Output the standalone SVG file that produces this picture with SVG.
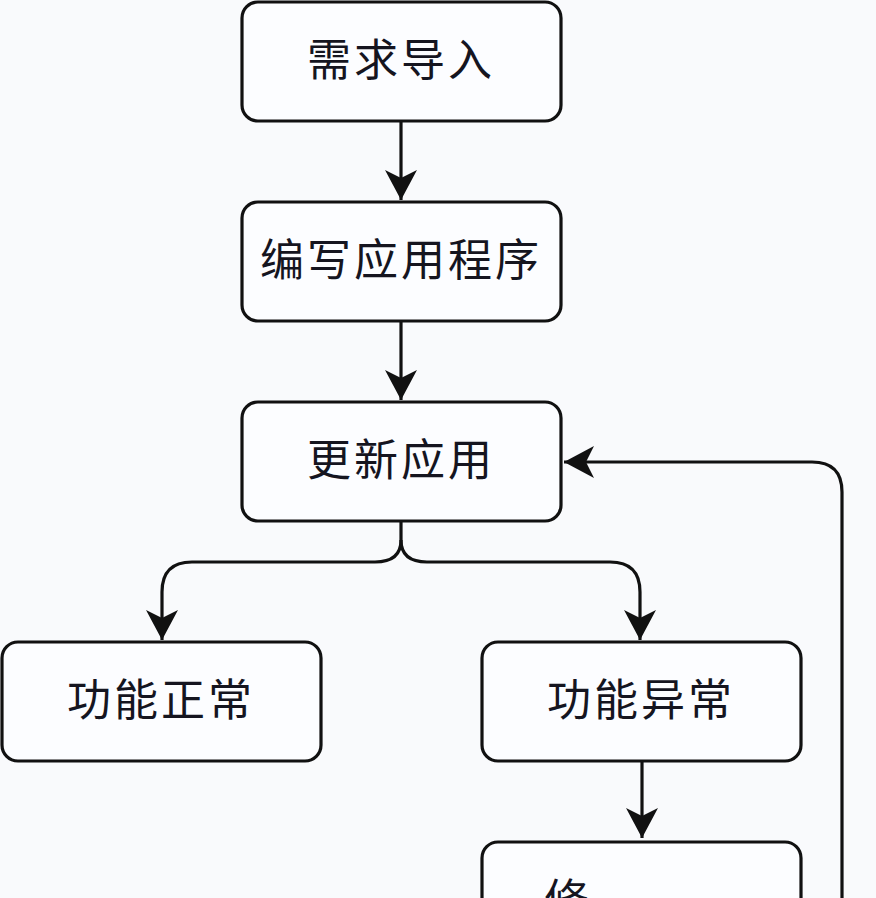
<svg xmlns="http://www.w3.org/2000/svg" width="876" height="898" viewBox="0 0 876 898">
<style>
.box{fill:#fcfdff;stroke:#111;stroke-width:3.2}
.lbl{font-family:"Noto Sans CJK SC","Noto Sans",sans-serif;font-size:44px;fill:#15151f;text-anchor:middle;letter-spacing:3px}
.edge{fill:none;stroke:#111;stroke-width:3.2}
</style>
<defs>
<marker id="ah" viewBox="0 0 30 32" refX="30" refY="16" markerWidth="30" markerHeight="32" markerUnits="userSpaceOnUse" orient="auto">
<path d="M0,0 L30,16 L0,32 L8,16 Z" fill="#111"/>
</marker>
</defs>
<rect width="876" height="898" fill="#f9fafc"/>
<g id="connectors">
<path class="edge" d="M401,122 V200" marker-end="url(#ah)"/>
<path class="edge" d="M401,322 V400" marker-end="url(#ah)"/>
<path class="edge" d="M401,522 V540 Q401,562 375,562 H192 Q162,562 162,592 V640" marker-end="url(#ah)"/>
<path class="edge" d="M401,540 Q401,562 427,562 H610 Q640,562 640,592 V640" marker-end="url(#ah)"/>
<path class="edge" d="M642,762 V838" marker-end="url(#ah)"/>
<path class="edge" d="M842,898 V492 Q842,462 812,462 H564" marker-end="url(#ah)"/>
</g>
<g id="n1"><rect class="box" x="242" y="2" width="319" height="119" rx="16"/><text class="lbl" x="401" y="76">需求导入</text></g>
<g id="n2"><rect class="box" x="242" y="202" width="319" height="119" rx="16"/><text class="lbl" x="401" y="276">编写应用程序</text></g>
<g id="n3"><rect class="box" x="242" y="402" width="319" height="119" rx="16"/><text class="lbl" x="401" y="476">更新应用</text></g>
<g id="n4"><rect class="box" x="2" y="642" width="319" height="119" rx="16"/><text class="lbl" x="161" y="716">功能正常</text></g>
<g id="n5"><rect class="box" x="482" y="642" width="319" height="119" rx="16"/><text class="lbl" x="641" y="716">功能异常</text></g>
<g id="n6"><rect class="box" x="482" y="842" width="319" height="119" rx="16"/><text class="lbl" x="568" y="916">修</text></g>
</svg>
